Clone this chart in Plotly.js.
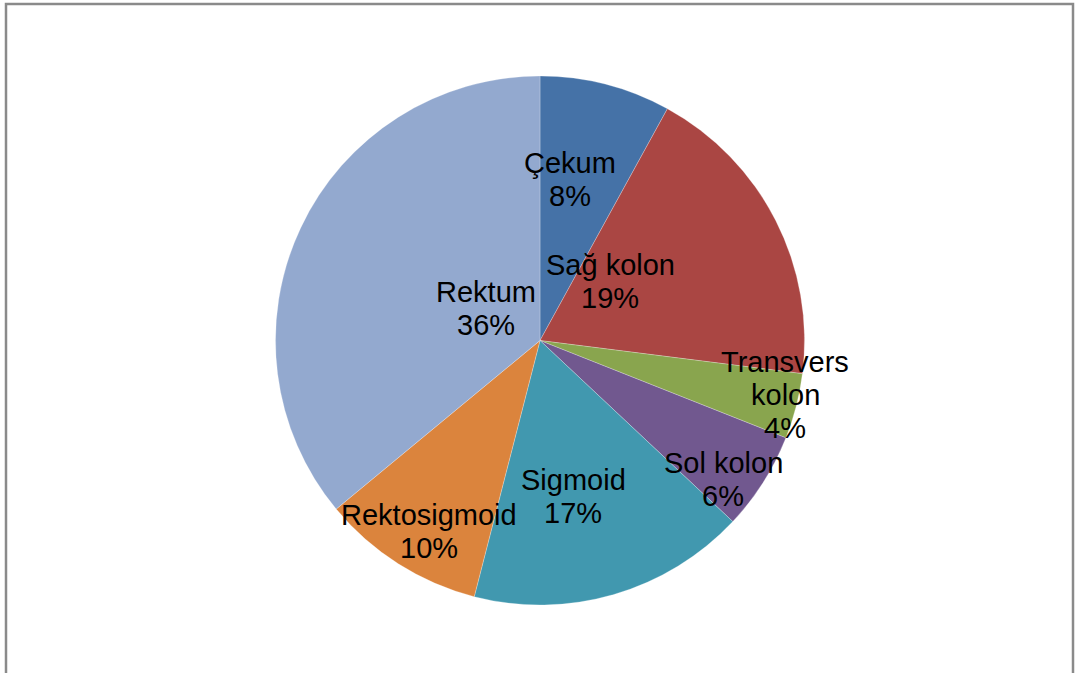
<!DOCTYPE html>
<html>
<head>
<meta charset="utf-8">
<script src="https://cdn.plot.ly/plotly-3.0.1.min.js"></script>
<style>html,body{margin:0;padding:0;background:#fff;}#chart{width:1077px;height:673px;}</style>
</head>
<body>
<div id="chart"></div>
<script>
// Data
const categories = ["Çekum", "Sağ kolon", "Transvers kolon", "Sol kolon", "Sigmoid", "Rektosigmoid", "Rektum"];
const values = [8, 19, 4, 6, 17, 10, 36];
const labelLines = [["Çekum"], ["Sağ kolon"], ["Transvers", "kolon"], ["Sol kolon"], ["Sigmoid"], ["Rektosigmoid"], ["Rektum"]];
const colors = ["#4572A7", "#AA4643", "#89A54E", "#71588F", "#4198AF", "#DB843D", "#93A9CF"];

// Layout (pixels)
const W = 1077, H = 673;
const cx = 540, cy = 340.5, R = 264.5;
const labelPos = [[570, 163], [610, 265], [785, 362], [723, 463], [573, 480], [429, 515], [486, 292]];
const lineStep = 33;
const fontSize = 29;

const annotations = [];
categories.forEach((c, i) => {
  const lines = labelLines[i].concat([values[i] + "%"]);
  lines.forEach((t, j) => {
    annotations.push({
      text: t, xref: "paper", yref: "paper",
      x: labelPos[i][0] / W, y: 1 - (labelPos[i][1] + j * lineStep) / H,
      xanchor: "center", yanchor: "middle", showarrow: false,
      font: {family: "Liberation Sans, Arial, sans-serif", size: fontSize, color: "#000"}
    });
  });
});

const trace = {
  type: "pie",
  labels: categories,
  values: values,
  sort: false,
  direction: "clockwise",
  rotation: 0,
  textinfo: "none",
  hoverinfo: "label+percent",
  marker: {colors: colors, line: {color: "rgba(255,255,255,0.5)", width: 0.5}},
  domain: {x: [(cx - R) / W, (cx + R) / W], y: [1 - (cy + R) / H, 1 - (cy - R) / H]},
  showlegend: false
};

const layout = {
  width: W, height: H,
  margin: {l: 0, r: 0, t: 0, b: 0},
  paper_bgcolor: "#fff",
  showlegend: false,
  annotations: annotations,
  shapes: [{
    type: "rect", xref: "paper", yref: "paper",
    x0: 6 / W, x1: 1073 / W, y0: -0.05, y1: 1 - 4 / H,
    line: {color: "#8a8a8a", width: 2.5}, fillcolor: "rgba(0,0,0,0)", layer: "below"
  }]
};

Plotly.newPlot("chart", [trace], layout, {displayModeBar: false, staticPlot: true});
</script>
</body>
</html>
